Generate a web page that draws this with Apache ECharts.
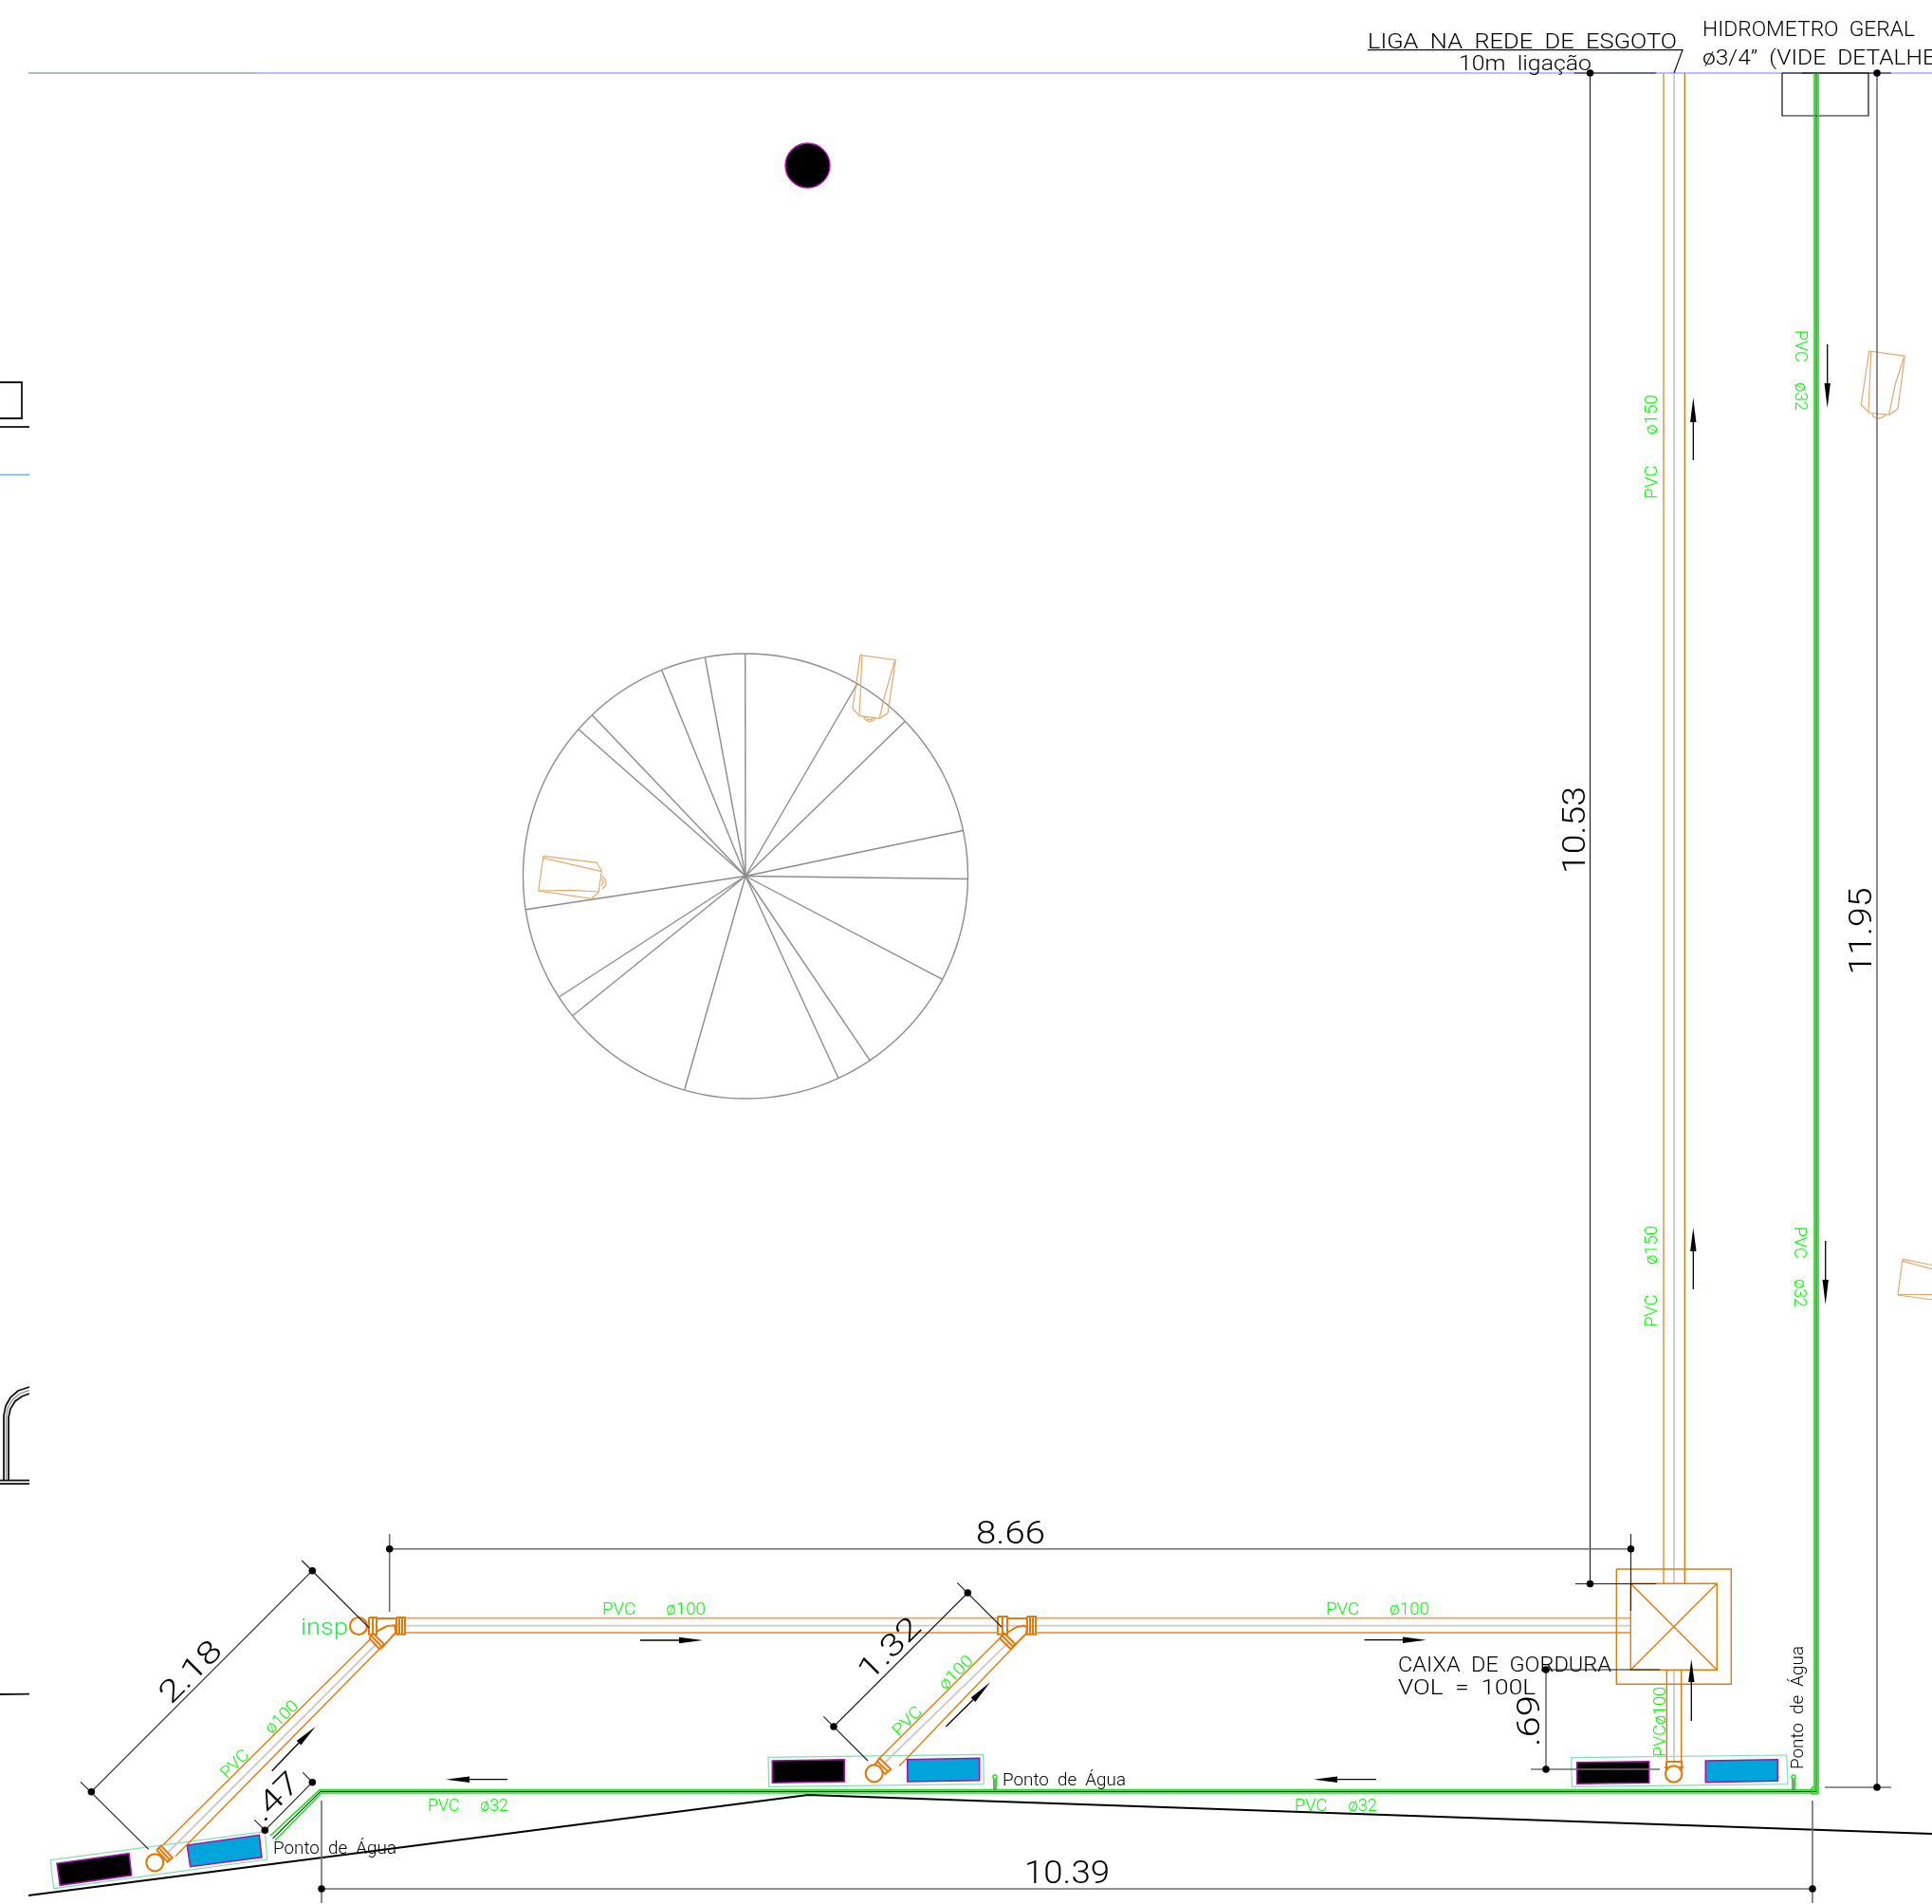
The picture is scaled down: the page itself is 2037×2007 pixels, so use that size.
<!DOCTYPE html>
<html><head><meta charset="utf-8">
<style>html,body{margin:0;padding:0;background:#fff}#c{width:2037px;height:2007px}</style>
<script src="https://cdn.jsdelivr.net/npm/echarts@6/dist/echarts.min.js"></script>
</head><body><div id="c"></div>
<script>
// ---- drawing extents (drawing units) ----
const extentX = [0, 2037];
const extentY = [0, 2007];

// ---- site / boundary lines ----
const boundaryGrey = [[[30,77],[270,77]]];
const boundaryBlue = [[[270,77],[2037,77]]];
const boundaryBlueLeft = [[[0,500.5],[31,500.5]]];
const groundLine = [[[30,1998],[852,1892],[2037,1933]]];
const leftFragments = [
  [[0,403],[23,403],[23,441],[0,441]],
  [[0,450],[31,450]],
  [[0,1786],[31,1785.7]],
  [[4,1560],[4,1492],[6,1482],[11,1473],[19,1466],[31,1462]],
  [[9,1560],[9,1494],[11,1485],[16,1477],[23,1472],[31,1469]],
  [[0,1560.5],[31,1560.5]],
  [[0,1564],[31,1564]]
];
const leftFragmentMid = [[[6.5,1560],[6.5,1493],[8.5,1483.5],[13.5,1475],[21,1469],[31,1465.5]]];
const hydrometerBox = [[[1879,77],[1970,77],[1970,122],[1879,122],[1879,77]]];
const leaderLines = [[[1442,52.7],[1774,52.7],[1765,77]]];

// ---- water pipe ----
const waterEdgeA = [[285,1935],[337,1886.7],[1913,1886.7],[1913,77]];
const waterEdgeB = [[290,1940],[339,1890],[1917,1890],[1917,77]];
const waterCore  = [[287.5,1938],[338,1888.4],[1915,1888.4],[1915,77]];
const waterStubs = [
  [[1047.5,1887],[1047.5,1874]],[[1050.5,1887],[1050.5,1874]],
  [[1889.5,1887],[1889.5,1874]],[[1892.5,1887],[1892.5,1874]]
];
const waterStubCores = [[[1049,1887],[1049,1876]],[[1891,1887],[1891,1876]]];
const waterNodes = [[1049,1873],[1891,1873]];
const waterCorner = [[[1910,1884],[1916,1884],[1916,1891],[1910,1891],[1910,1884]]];

// ---- sewer pipes ----
const sewerDark = [
  [[1776.3,77],[1776.3,1669.3]],
  [[1757.3,1760],[1757.3,1857]],[[1772.7,1760],[1772.7,1857]],
  [[171.7,1945],[390,1728.3]],[[185,1956.7],[400,1738.3]],
  [[926.7,1854],[1055,1726]],[[948,1861.7],[1066.7,1738]]
];
const sewerLight = [
  [[1754,77],[1754,1669.3]],
  [[427,1705.7],[1052,1705.7]],[[427,1721],[1052,1721]],
  [[1092,1705.7],[1719,1705.7]],[[1092,1721],[1719,1721]]
];
const sewerCentre = [
  [[1765,77],[1765,1669]],[[1765,1760],[1765,1857]],
  [[427,1713.7],[1719,1713.7]],
  [[176.7,1953],[396.7,1733]],[[933,1858],[1063,1731.7]]
];
const greaseTrap = [
  [[1704.3,1654],[1825.3,1654],[1825.3,1775.3],[1704.3,1775.3],[1704.3,1654]]
];
const greaseTrapInner = [
  [[1719.3,1669.3],[1810.3,1669.3],[1810.3,1760.3],[1719.3,1760.3],[1719.3,1669.3]],
  [[1719.3,1669.3],[1810.3,1760.3]],[[1810.3,1669.3],[1719.3,1760.3]]
];
const fittings = [
  [[389,1705],[397,1705],[397,1722.7],[389,1722.7],[389,1705]],[[393,1705],[393,1722.7]],
  [[418,1705],[427,1705],[427,1722.7],[418,1722.7],[418,1705]],[[421,1705],[421,1722.7]],[[424,1705],[424,1722.7]],
  [[397,1706],[418,1706]],
  [[1052,1704],[1062,1704],[1062,1722.7],[1052,1722.7],[1052,1704]],[[1057,1704],[1057,1722.7]],
  [[1083,1704],[1092,1704],[1092,1722.7],[1083,1722.7],[1083,1704]],[[1086,1704],[1086,1722.7]],[[1089,1704],[1089,1722.7]],
  [[1062,1706],[1083,1706]],
  [[165,1950],[170,1945.7],[181.7,1958.3],[176.7,1962.7],[165,1950]],[[167.5,1948],[179,1960.5]],
  [[389.3,1726.7],[393.3,1721.7],[405,1733.3],[400,1738.3],[389.3,1726.7]],[[391.3,1724.2],[402.5,1735.8]],
  [[922.3,1860],[927.3,1853.3],[939.3,1865],[933.3,1870],[922.3,1860]],[[924.8,1856.6],[936.3,1867.5]],
  [[1054,1726.7],[1059,1721.7],[1070.7,1733.3],[1065.7,1738.3],[1054,1726.7]],[[1056.5,1724.2],[1068.2,1735.8]],
  [[396.7,1720],[408,1714],[416,1713.3],[417.3,1720.7],[401.7,1738]],
  [[1062,1721],[1072,1715],[1080,1713.5],[1083,1716],[1082,1722],[1066,1738]],
  [[1757,1857],[1773,1857],[1773,1865],[1757,1865],[1757,1857]],
  [[1755,1863],[1775,1863]]
];
const fittingRings = [[378,1714,9],[163.3,1963.3,9],[921.7,1869.3,9],[1764.7,1870,8.7]];

// ---- fixtures ----
const fixtureFrames = [
  [[53.3,1960.7],[279.3,1930.7],[281.7,1960],[56.7,1990.7]],
  [[810,1852.3],[1036.7,1849.3],[1037.3,1880.7],[810.7,1883.3]],
  [[1656.7,1852.7],[1883.7,1850],[1885,1880.7],[1657.3,1883.3]]
];
const fixtureBlack = [
  [[60,1964.3],[136,1953.7],[138.7,1976.7],[63.3,1987.3]],
  [[814.3,1856],[890.3,1854.7],[890.3,1878],[814.3,1879.3]],
  [[1662.7,1857.7],[1738.7,1856.7],[1738.7,1879.3],[1662.7,1880.3]]
];
const fixtureBlue = [
  [[197.3,1945],[273.3,1934.3],[276,1957.7],[200.7,1967.7]],
  [[956.7,1854.7],[1032.7,1853.3],[1032.7,1876.7],[956.7,1878]],
  [[1798.3,1856],[1874.3,1854.7],[1874.3,1877.3],[1798.3,1878.7]]
];
const blackDisc = [[851.5,174.5,23.5]];

// ---- roof circle ----
const roofCircle = [[786,923.5,234.5]];
const roofHub = [786,923.5];
const roofSpokeEnds = [
  [785.7,688.8],[743.3,693.2],[697.7,706.5],[624.3,753.8],[610,768.8],[554.3,958.8],
  [590,1050.5],[604,1070.5],[721.7,1148.8],[884,1136.5],[917.3,1117.8],[993.3,1032.2],
  [1020.7,926.5],[1015.3,875.5],[954,760.5],[904,720.5]
];

// ---- downpipe symbols ----
const symbolLines = [
  [[907,690.7],[944.3,695.7],[936,751.7],[927.3,757.3],[906,754.7],[899,746.7],[907,690.7]],
  [[909,690.7],[906,754]],[[943.3,696.7],[933.3,731.7],[927.3,756.7]],
  [[910.7,755.5],[912,758.5],[916,760.5],[921,759],[923,756]],[[913,756],[915,758.5],[918.5,758.5],[920.5,756]],
  [[573,902.3],[629.3,909.3],[634.3,918.3],[631,940.7],[624,947.3],[567.7,939],[573,902.3]],
  [[573,904.3],[608.3,912.7],[633.3,918.3]],[[567.7,939],[603.3,938.3],[631,940]],
  [[634.7,923],[638.7,928],[639,933],[635,937]],[[634.5,926],[636.5,930],[634,934]],
  [[1970.7,370],[2008.3,375.3],[2001,431],[1991.7,437.3],[1970.7,435],[1962.3,426.7],[1970.7,370]],
  [[1972.7,370.7],[1970,434.3]],[[2007.3,376.7],[1998.3,405],[1991.7,436.7]],
  [[1973.3,435.3],[1975.3,439.3],[1980.7,441.3],[1986,439.3],[1988.3,436.7]],
  [[2037,1333.5],[2006,1327.3],[2001,1365],[2037,1370]],
  [[2006,1329.3],[2037,1337.7]],[[2001,1364.5],[2037,1364.7]]
];

// ---- dimensions ----
const dimThin = [
  [[1676.5,77],[1676.5,1669.5]],[[1660,77],[1746,77]],[[1661,1669.5],[1746,1669.5]],
  [[1719.5,1617],[1719.5,1698]],
  [[1900,77],[1994,77]],
  [[1625,1760],[1750,1760]],
  [[329.3,1655.7],[96.3,1888.7]],[[318.3,1645],[389.3,1716]],[[85,1878.3],[156.7,1949.3]],
  [[1020.3,1679],[879,1820]],[[1009.3,1668.3],[1056,1715]],[[868.3,1809.3],[915,1856]],
  [[329.3,1878.7],[279.3,1929.3]],[[319.3,1868.3],[329.3,1878.7]],[[268.3,1918.3],[279.3,1929.3]]
];
const dimGrey = [
  [[411,1632.7],[1719.5,1632.7]],
  [[339,1991],[1911,1991]],
  [[410.7,1617],[410.7,1699]],
  [[339,1898],[339,2006]],[[1911,1898],[1911,2006]],
  [[1979,77],[1979,1884]],[[1924,1884],[1994,1884]],
  [[1614,1865],[1750,1865]],[[1630,1760],[1630,1865]]
];
const dimDots = [
  [1676.5,77],[1676.5,1669.5],[1979,77],[1979,1884],[410.7,1632.7],[1719.5,1632.7],
  [339,1991],[1911,1991],[1630,1760],[1630,1865],[329.3,1655.7],[96.3,1888.7],
  [1020.3,1679],[879,1820],[329.3,1878.7],[279.3,1929.3]
];

// ---- flow arrows: tail, head base, tip ----
const flowArrows = [
  [[1785.3,485],[1785.3,445],[1785.3,419]],
  [[1785.3,1359],[1785.3,1319],[1785.3,1294]],
  [[1926.7,363],[1926.7,404],[1926.7,430]],
  [[1924.7,1308],[1924.7,1349],[1924.7,1375]],
  [[675,1729],[716,1729],[741,1729]],
  [[1438.6,1728.7],[1479,1728.7],[1503.7,1728.7]],
  [[535,1875.7],[495,1875.7],[470,1875.7]],
  [[1451,1875.7],[1410,1875.7],[1385,1875.7]],
  [[1783.3,1814],[1783.3,1773],[1783.3,1749]],
  [[286.7,1866.7],[315,1837.3],[332.7,1820]],
  [[997.3,1820],[1026,1791.7],[1044,1773.3]]
];

// ---- labels ----
const dimensionTexts = ['10.53','11.95','8.66','10.39','2.18','1.32','.47','.69'];
const dimensionPlaces = [[1659,875,92,90],[1961,981.5,92,90],[1065.5,1615.5,73,0],[1125,1973,90,0],[200,1761.5,79,45],[937,1737,79,45],[290,1893,58,45],[1611,1814,54,90]];
const noteTexts = ['LIGA  NA  REDE  DE  ESGOTO','10m  ligação','HIDROMETRO  GERAL','ø3/4”  (VIDE  DETALHE','CAIXA  DE  GORDURA','VOL  =  100L'];
const notePlaces = [[1605,43,326,0],[1608,66,140,0],[1907,30,224,0],[1918,60,246,0],[1586.5,1754,225,0],[1546.5,1777.5,145,0]];
const waterPointTexts = ['Ponto  de  Água','Ponto  de  Água','Ponto  de  Água'];
const waterPointPlaces = [[353,1946.5,130,0],[1122,1874.5,130,0],[1893.5,1800,130,90]];
const pipeTexts = ['PVC       ø100','PVC       ø100','PVC     ø32','PVC     ø32','PVC     ø32','PVC     ø32','PVC       ø150','PVC       ø150','PVCø100','PVC       ø100','PVC       ø100'];
const pipePlaces = [[689.5,1694,109,0],[1452.5,1694,109,0],[493.5,1901.5,85,0],[1408.5,1901.5,87,0],[1900.5,390.5,85,-90],[1899.5,1335.5,85,-90],[1739.5,471,110,90],[1739.5,1345.5,107,90],[1748.5,1815,74,90],[272,1832,108,45],[982,1786,112,45]];
const inspText = ['insp'];
const inspPlace = [[342,1714,50,0]];

// ---- styles ----
const FONT = '300 {s}px Roboto, "Liberation Sans", sans-serif';
const ORANGE = '#e37a0e', ORANGE_L = '#eda45e', TAN = '#e3a86c', GREEN = '#19e619', LIME = '#00ff00';

function polyLines(name, lines, color, width) {
  return {
    name, type: 'lines', coordinateSystem: 'cartesian2d', polyline: true, silent: true,
    lineStyle: { color, width, opacity: 1, cap: 'butt', join: 'miter' },
    data: lines.map(c => ({ coords: c }))
  };
}
function polygons(name, shapes, fill, stroke, lw) {
  return {
    name, type: 'custom', coordinateSystem: 'cartesian2d', silent: true,
    encode: { x: 0, y: 1 },
    data: shapes.map((s, i) => [s[0][0], s[0][1], i]),
    renderItem(p, api) {
      const pts = shapes[api.value(2)].map(q => api.coord(q));
      return { type: 'polygon', shape: { points: pts }, style: { fill, stroke, lineWidth: lw } };
    }
  };
}
function circles(name, list, fill, stroke, lw) {
  return {
    name, type: 'custom', coordinateSystem: 'cartesian2d', silent: true,
    encode: { x: 0, y: 1 },
    data: list,
    renderItem(p, api) {
      const c = api.coord([api.value(0), api.value(1)]);
      const r = api.size([api.value(2), 0])[0];
      return { type: 'circle', shape: { cx: c[0], cy: c[1], r }, style: { fill, stroke, lineWidth: lw } };
    }
  };
}
const measureCtx = document.createElement('canvas').getContext('2d');
function texts(name, strs, places, capH, color, dy) {
  const font = FONT.replace('{s}', Math.round(capH / 0.711 * 10) / 10);
  return {
    name, type: 'custom', coordinateSystem: 'cartesian2d', silent: true,
    encode: { x: 0, y: 1 },
    data: places.map((q, i) => [q[0], q[1], i]),
    renderItem(p, api) {
      const i = api.value(2), q = places[i], c = api.coord([q[0], q[1]]);
      measureCtx.font = font;
      const w = measureCtx.measureText(strs[i]).width;
      return {
        type: 'text', x: c[0], y: c[1], rotation: q[3] * Math.PI / 180,
        scaleX: q[2] / w,
        style: { text: strs[i], x: 0, y: dy, font, fill: color, align: 'center', verticalAlign: 'middle' }
      };
    }
  };
}
const arrowHeads = flowArrows.map(a => {
  const [, b, t] = a;
  const dx = t[0] - b[0], dy = t[1] - b[1], L = Math.hypot(dx, dy);
  const nx = -dy / L * 3.2, ny = dx / L * 3.2;
  return [[b[0] + nx, b[1] + ny], t, [b[0] - nx, b[1] - ny]];
});

const series = [
  polyLines('boundaryGrey', boundaryGrey, '#93a6a8', 1.5),
  polyLines('boundaryBlue', boundaryBlue, '#9fa9f6', 1.6),
  polyLines('boundaryBlueLeft', boundaryBlueLeft, '#76aeee', 1.6),
  polyLines('ground', groundLine, '#000', 1.8),
  polyLines('left', leftFragments, '#111', 1.8),
  polyLines('leftMid', leftFragmentMid, '#888', 1.2),
  polyLines('hydrometer', hydrometerBox, '#111', 1.2),
  polyLines('leader', leaderLines, '#111', 1.2),
  polygons('frames', fixtureFrames, '#fff', '#82dfb0', 1.2),
  polygons('black', fixtureBlack, '#000', '#a214a8', 1.6),
  polygons('blue', fixtureBlue, '#00a5dc', '#a214a8', 1.6),
  polyLines('centre', sewerCentre, '#cbcbcb', 1.8),
  polyLines('sewerLight', sewerLight, ORANGE_L, 1.8),
  polyLines('sewerDark', sewerDark, ORANGE, 1.4),
  polyLines('trap', greaseTrap, ORANGE, 1.4),
  polyLines('trapInner', greaseTrapInner, ORANGE, 1.4),
  polyLines('fittings', fittings, ORANGE, 2),
  circles('rings', fittingRings, '#fff', ORANGE, 2.2),
  circles('disc', blackDisc, '#000', '#c010c0', 1.4),
  circles('roof', roofCircle, 'none', '#8c8c8c', 1.4),
  polyLines('spokes', roofSpokeEnds.map(e => [roofHub, e]), '#8c8c8c', 1.4),
  polyLines('symbols', symbolLines, TAN, 1.2),
  polyLines('dimThin', dimThin, '#1a1a1a', 1.1),
  polyLines('dimGrey', dimGrey, '#6e6e6e', 1.6),
  polyLines('waterA', [waterEdgeA], GREEN, 1.7),
  polyLines('waterB', [waterEdgeB], GREEN, 1.7),
  polyLines('waterCore', [waterCore], '#1c3a1c', 1.1),
  polyLines('stubs', waterStubs, GREEN, 1.1),
  polyLines('stubCores', waterStubCores, '#333', 1),
  polyLines('corner', waterCorner, GREEN, 1.3),
  circles('nodes', waterNodes.map(n => [n[0], n[1], 2]), '#fff', GREEN, 1.4),
  { name: 'dots', type: 'scatter', coordinateSystem: 'cartesian2d', symbol: 'circle', symbolSize: 7.5, silent: true,
    itemStyle: { color: '#000', opacity: 1 }, data: dimDots },
  polyLines('arrowTails', flowArrows.map(a => [a[0], a[1]]), '#000', 1.3),
  polygons('arrowHeads', arrowHeads, '#000', 'none', 0),
  texts('dimTexts', dimensionTexts, dimensionPlaces, 23, '#000', 3.5),
  texts('notes', noteTexts, notePlaces, 16, '#000', 2.8),
  texts('waterPoints', waterPointTexts, waterPointPlaces, 13, '#000', 2.6),
  texts('pipeLabels', pipeTexts, pipePlaces, 12.5, LIME, 3.2),
  texts('insp', inspText, inspPlace, 17, '#22e84a', 3)
];

const chart = echarts.init(document.getElementById('c'), null, { renderer: 'canvas' });
chart.setOption({
  animation: false,
  backgroundColor: '#fff',
  grid: { left: 0, right: 0, top: 0, bottom: 0, containLabel: false },
  xAxis: { type: 'value', min: extentX[0], max: extentX[1], show: false },
  yAxis: { type: 'value', min: extentY[0], max: extentY[1], inverse: true, show: false },
  series
});
</script></body></html>
